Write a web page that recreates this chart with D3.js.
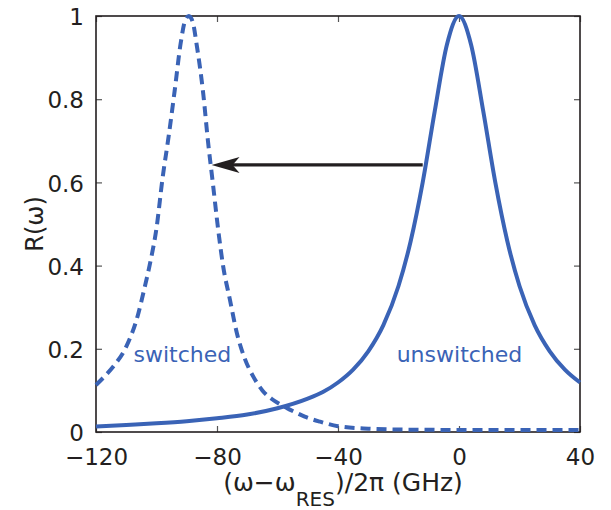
<!DOCTYPE html>
<html>
<head>
<meta charset="utf-8">
<script src="https://cdn.jsdelivr.net/npm/d3@7"></script>
<style>
  body { margin: 0; background: #fff; }
  svg { display: block; font-family: "DejaVu Sans", sans-serif; }
</style>
</head>
<body>
<svg id="chart" width="611" height="510"></svg>
<script>
// Data
const xTicks = [-120, -80, -40, 0, 40];
const xTickLabels = ['\u2212120', '\u221280', '\u221240', '0', '40'];
const yTicks = [0, 0.2, 0.4, 0.6, 0.8, 1];
const yTickLabels = ['0', '0.2', '0.4', '0.6', '0.8', '1'];

// unswitched resonance (solid)
const unswitchedX = [-120, -110, -100, -90, -80, -70, -60, -50, -45, -40, -35, -30, -25, -20, -16, -12, -8, -4, 0,
    4, 8, 12, 16, 20, 25, 30, 35, 40];
const unswitchedR = [0.013, 0.017, 0.021, 0.026, 0.033, 0.042, 0.057, 0.080, 0.096, 0.119, 0.150, 0.194, 0.257, 0.351, 0.458, 0.600, 0.772, 0.931, 1.0,
    0.931, 0.772, 0.600, 0.458, 0.351, 0.257, 0.194, 0.150, 0.119];

// switched resonance (dashed)
const switchedX = [-120, -117, -114, -110, -106, -104, -102, -100, -98, -96, -94, -92, -90.5, -89.3,
    -88, -86.7, -84.5, -83, -81.4, -79.5, -78, -75.7, -73.5, -71, -68, -65, -62, -59, -57, -54, -51, -46, -40, -30, -20, 0, 20, 40];
const switchedR = [0.113, 0.135, 0.16, 0.205, 0.285, 0.345, 0.41, 0.49, 0.61, 0.71, 0.82, 0.935, 0.99, 1.0,
    0.985, 0.93, 0.81, 0.70, 0.60, 0.48, 0.40, 0.317, 0.24, 0.18, 0.133, 0.10, 0.08, 0.066, 0.058, 0.047, 0.037, 0.025, 0.014, 0.008, 0.006, 0.005, 0.005, 0.005];

// annotations
const arrowFrom = [-12, 0.642];
const arrowTo = [-81.8, 0.642];
const labels = [
    { text: 'switched', x: -107.6, y: 0.168 },
    { text: 'unswitched', x: -20.6, y: 0.168 }
];

// Layout
const margin = { top: 16, left: 96 };
const width = 484;
const height = 416;
const blue = '#3a63b6';
const ink = '#231f20';

const svg = d3.select('#chart');
const g = svg.append('g').attr('transform', `translate(${margin.left},${margin.top})`);

const x = d3.scaleLinear().domain([-120, 40]).range([0, width]);
const y = d3.scaleLinear().domain([0, 1]).range([height, 0]);

// axes with inward ticks on all four sides
function styleAxis(sel) {
    sel.select('.domain').remove();
    sel.selectAll('.tick line').attr('stroke', '#555').attr('stroke-width', 1.2);
    sel.selectAll('.tick text').attr('fill', ink).style('font-size', '23px').style('font-family', '"DejaVu Sans", sans-serif');
}

g.append('g')
    .attr('transform', `translate(0,${height})`)
    .call(d3.axisBottom(x).tickValues(xTicks).tickSizeInner(-6).tickSizeOuter(0).tickPadding(17)
        .tickFormat((d, i) => xTickLabels[i]))
    .call(styleAxis);

g.append('g')
    .call(d3.axisTop(x).tickValues(xTicks).tickSizeInner(-6).tickSizeOuter(0).tickFormat(''))
    .call(styleAxis);

g.append('g')
    .call(d3.axisLeft(y).tickValues(yTicks).tickSizeInner(-6).tickSizeOuter(0).tickPadding(12)
        .tickFormat((d, i) => yTickLabels[i]))
    .call(styleAxis)
    .selectAll('.tick text').attr('dy', '0.38em');

g.append('g')
    .attr('transform', `translate(${width},0)`)
    .call(d3.axisRight(y).tickValues(yTicks).tickSizeInner(-6).tickSizeOuter(0).tickFormat(''))
    .call(styleAxis);

// frame
g.append('rect')
    .attr('width', width).attr('height', height)
    .attr('fill', 'none').attr('stroke', ink).attr('stroke-width', 1.6);

// curves
const line = d3.line()
    .x(d => x(d[0]))
    .y(d => y(d[1]))
    .curve(d3.curveMonotoneX);

g.append('path')
    .datum(switchedX.map((v, i) => [v, switchedR[i]]))
    .attr('d', line)
    .attr('fill', 'none')
    .attr('stroke', blue)
    .attr('stroke-width', 4)
    .attr('stroke-dasharray', '10,6');

g.append('path')
    .datum(unswitchedX.map((v, i) => [v, unswitchedR[i]]))
    .attr('d', line)
    .attr('fill', 'none')
    .attr('stroke', blue)
    .attr('stroke-width', 4);

// arrow
const ax0 = x(arrowTo[0]), ay = y(arrowTo[1]);
g.append('line')
    .attr('x1', x(arrowFrom[0])).attr('y1', y(arrowFrom[1]))
    .attr('x2', ax0 + 18).attr('y2', ay)
    .attr('stroke', ink).attr('stroke-width', 3.2);
g.append('path')
    .attr('d', `M${ax0},${ay} L${ax0 + 28},${ay - 8} L${ax0 + 21},${ay} L${ax0 + 28},${ay + 8} Z`)
    .attr('fill', ink);

// curve labels
g.selectAll('.curve-label')
    .data(labels)
    .join('text')
    .attr('class', 'curve-label')
    .attr('x', d => x(d.x))
    .attr('y', d => y(d.y))
    .attr('fill', blue)
    .style('font-size', '22px')
    .text(d => d.text);

// axis titles
const xTitle = svg.append('text')
    .attr('x', 343)
    .attr('y', 491)
    .attr('text-anchor', 'middle')
    .attr('fill', ink)
    .style('font-size', '25px');
xTitle.append('tspan').text('(\u03c9\u2212\u03c9');
xTitle.append('tspan').attr('dy', 15).style('font-size', '20px').text('RES');
xTitle.append('tspan').attr('dy', -15).text(')/2\u03c0 (GHz)');

svg.append('text')
    .attr('transform', `translate(43,${margin.top + y(0.5)}) rotate(-90)`)
    .attr('text-anchor', 'middle')
    .attr('fill', ink)
    .style('font-size', '24px')
    .text('R(\u03c9)');
</script>
</body>
</html>
